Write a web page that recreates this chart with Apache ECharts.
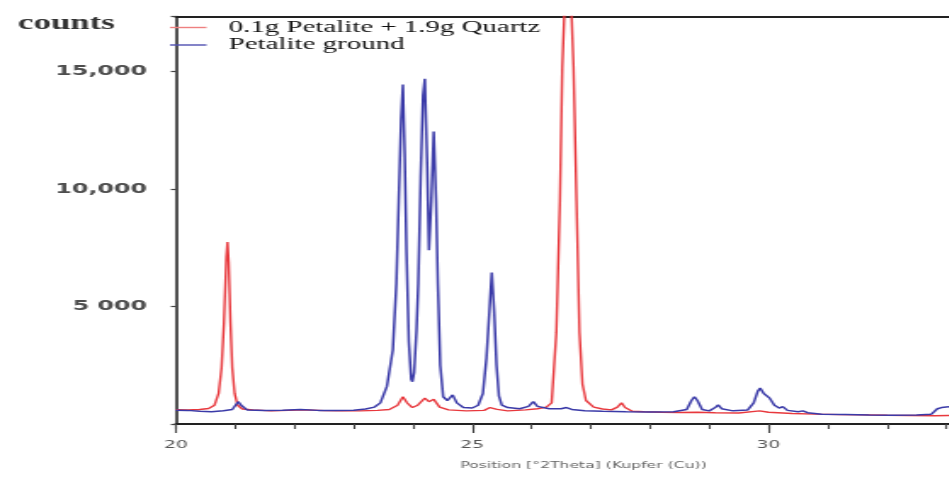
<!DOCTYPE html>
<html>
<head>
<meta charset="utf-8">
<script src="https://cdn.jsdelivr.net/npm/echarts@6/dist/echarts.min.js"></script>
<style>
  html, body { margin: 0; padding: 0; background: #ffffff; overflow: hidden; width: 949px; height: 478px; }
  /* the reference picture is stretched horizontally; the chart is drawn narrow and stretched the same way */
  #chart { width: 558.24px; height: 478px; transform: scaleX(1.7); transform-origin: 0 0; }
</style>
</head>
<body>
<div id="chart"></div>
<script>
// ---------- data ----------
const seriesNames = ['0.1g Petalite + 1.9g Quartz', 'Petalite ground'];

// 0.1g Petalite + 1.9g Quartz : position [°2Theta] and counts
const quartzMixPos = [20.00, 20.20, 20.40, 20.55, 20.65, 20.72, 20.77, 20.81, 20.85, 20.87, 20.89, 20.92, 20.95, 20.99, 21.04, 21.12,
  21.30, 21.60, 21.90, 22.20, 22.50, 22.80, 23.10, 23.40, 23.60, 23.74, 23.83, 23.90, 23.99, 24.08, 24.20, 24.27, 24.35, 24.45,
  24.60, 24.90, 25.20, 25.30, 25.35, 25.42, 25.60, 25.90, 26.10, 26.25, 26.34, 26.42, 26.48, 26.52, 26.555, 26.615, 26.675,
  26.71, 26.76, 26.81, 26.86, 26.92, 27.05, 27.20, 27.35, 27.45, 27.52, 27.58, 27.70, 27.90, 28.20, 28.50, 28.80, 29.10,
  29.50, 29.85, 30.00, 30.40, 30.80, 31.20, 31.60, 32.00, 32.40, 32.80, 33.04];
const quartzMixCounts = [610, 600, 620, 660, 800, 1300, 2400, 4300, 7100, 7750, 6900, 4300, 2400, 1300, 800, 640,
  600, 560, 580, 600, 570, 560, 560, 580, 620, 800, 1160, 900, 700, 800, 1100, 950, 1050, 720,
  600, 560, 580, 700, 780, 620, 560, 600, 650, 720, 900, 3900, 9500, 15200, 17500, 32000, 17500,
  15200, 9500, 3900, 1700, 1000, 720, 640, 600, 720, 900, 700, 540, 520, 500, 490, 500, 480,
  470, 560, 500, 450, 420, 400, 390, 370, 360, 350, 360];

// Petalite ground : position [°2Theta] and counts
const petalitePos = [20.00, 20.20, 20.40, 20.60, 20.80, 20.95, 21.05, 21.10, 21.20, 21.50, 21.80, 22.10, 22.40, 22.70, 23.00,
  23.20, 23.35, 23.45, 23.56, 23.66, 23.72, 23.76, 23.80, 23.83, 23.86, 23.89, 23.93, 23.97, 23.99, 24.02, 24.06, 24.09,
  24.13, 24.17, 24.20, 24.24, 24.27, 24.31, 24.35, 24.39, 24.42, 24.46, 24.51, 24.58, 24.67, 24.74, 24.85, 25.00, 25.10,
  25.18, 25.24, 25.29, 25.33, 25.37, 25.41, 25.45, 25.50, 25.60, 25.80, 25.95, 26.03, 26.10, 26.30, 26.50, 26.59, 26.68,
  26.90, 27.20, 27.60, 28.00, 28.40, 28.62, 28.70, 28.75, 28.80, 28.88, 29.00, 29.10, 29.15, 29.21, 29.40, 29.65, 29.75,
  29.82, 29.86, 29.92, 29.96, 30.02, 30.10, 30.18, 30.24, 30.32, 30.50, 30.58, 30.66, 30.90, 31.30, 31.70, 32.10, 32.50,
  32.75, 32.85, 32.92, 33.04];
const petaliteCounts = [590, 580, 540, 520, 560, 620, 950, 800, 600, 580, 590, 620, 580, 570, 590,
  640, 720, 900, 1600, 3150, 6000, 9500, 13000, 14450, 11500, 7400, 3500, 1900, 1800, 2200, 4000, 6000,
  10500, 14000, 14700, 11000, 7400, 9500, 12450, 9500, 6000, 2500, 1160, 1000, 1240, 900, 700, 680, 800,
  1300, 2800, 4800, 6450, 4800, 2500, 1200, 800, 700, 650, 750, 950, 750, 650, 650, 700, 620,
  560, 540, 520, 510, 520, 620, 1000, 1160, 1000, 620, 560, 700, 810, 650, 560, 600, 900,
  1400, 1530, 1300, 1380, 1100, 800, 680, 740, 580, 520, 560, 480, 420, 400, 380, 370, 380,
  420, 650, 700, 730];

// axes
const xMin = 20, xMax = 33.04, xMajor = 5, xMinor = 1;
const xTickLabels = ['20', '25', '30'];
const yMin = 0, yMax = 17350, yStep = 5000;
const yTickLabels = ['', '5 000', '10,000', '15,000'];
const yAxisTitle = 'counts';
const xAxisTitle = 'Position [°2Theta] (Kupfer (Cu))';

// ---------- chart ----------
const zip = (a, b) => a.map((v, i) => [v, b[i]]);

const chart = echarts.init(document.getElementById('chart'), null, { renderer: 'canvas' });
chart.setOption({
  animation: false,
  backgroundColor: '#ffffff',
  grid: { left: 103.5, right: 0, top: 16.5, bottom: 54, containLabel: false },
  legend: {
    orient: 'vertical',
    left: 100,
    top: 19,
    padding: 0,
    icon: 'rect',
    itemWidth: 21.5,
    itemHeight: 1.4,
    itemGap: 0.5,
    data: [
      { name: seriesNames[0], itemStyle: { color: '#ee8080' } },
      { name: seriesNames[1], itemStyle: { color: '#5050b0' } }
    ],
    textStyle: { fontFamily: 'Liberation Serif', fontSize: 17, color: '#111', lineHeight: 17, padding: [0, 0, 0, 8] }
  },
  xAxis: [
    {
      type: 'value', min: xMin, max: xMax, interval: xMajor, position: 'bottom',
      axisLine: { show: true, lineStyle: { color: '#222', width: 2 } },
      axisTick: { show: true, length: 9, lineStyle: { color: '#444', width: 1.1 } },
      axisLabel: {
        showMaxLabel: false, margin: 16,
        fontFamily: 'DejaVu Sans', fontSize: 11, color: '#555',
        formatter: v => xTickLabels.includes(String(v)) ? String(v) : ''
      },
      splitLine: { show: false },
      name: xAxisTitle, nameLocation: 'middle', nameGap: 37,
      nameTextStyle: { fontFamily: 'DejaVu Sans', fontSize: 9.2, color: '#666', padding: [0, 0, 0, 25] }
    },
    {
      type: 'value', min: xMin, max: xMax, interval: xMinor, position: 'bottom',
      axisLine: { show: false },
      axisTick: { show: true, length: 5, lineStyle: { color: '#444', width: 1.1 } },
      axisLabel: { show: false },
      splitLine: { show: false }
    },
    {
      type: 'value', min: xMin, max: xMax, position: 'top',
      axisLine: { show: true, lineStyle: { color: '#222', width: 2 } },
      axisTick: { show: false }, axisLabel: { show: false }, splitLine: { show: false }
    }
  ],
  yAxis: {
    type: 'value', min: yMin, max: yMax, interval: yStep,
    axisLine: { show: true, lineStyle: { color: '#333', width: 1.7 } },
    axisTick: { show: true, length: 3, lineStyle: { color: '#444', width: 1.2 } },
    axisLabel: {
      margin: 17, fontFamily: 'DejaVu Sans', fontWeight: 'bold', fontSize: 14, color: '#4d4d4d',
      formatter: v => (v % yStep === 0 && yTickLabels[v / yStep] !== undefined) ? yTickLabels[v / yStep] : ''
    },
    splitLine: { show: false },
    name: yAxisTitle, nameLocation: 'end', nameGap: -7,
    nameTextStyle: { fontFamily: 'Liberation Serif', fontWeight: 'bold', fontSize: 20.5, color: '#333',
      align: 'right', verticalAlign: 'middle', padding: [0, 36, 0, 0] }
  },
  series: [
    {
      name: seriesNames[0], type: 'line', xAxisIndex: 0, data: zip(quartzMixPos, quartzMixCounts),
      showSymbol: false, symbol: 'none', clip: true,
      color: '#e8383d', lineStyle: { color: '#e8383d', width: 1.4 }
    },
    {
      name: seriesNames[1], type: 'line', xAxisIndex: 0, data: zip(petalitePos, petaliteCounts),
      showSymbol: false, symbol: 'none', clip: true,
      color: '#3a3aa8', lineStyle: { color: '#3a3aa8', width: 1.5 }
    }
  ]
});
</script>
</body>
</html>
